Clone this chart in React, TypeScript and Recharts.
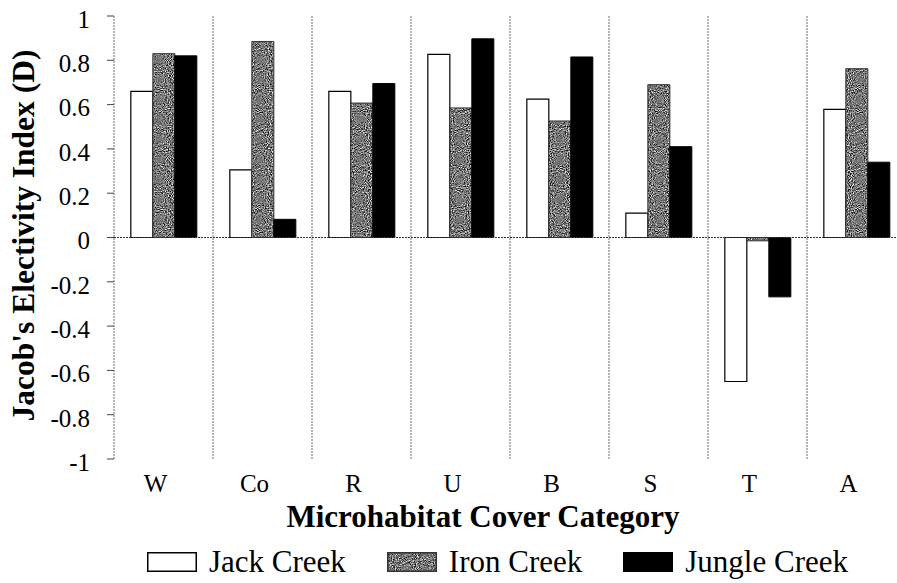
import React from 'react';
import {
  BarChart,
  Bar,
  XAxis,
  YAxis,
  CartesianGrid,
  ReferenceLine,
  Legend,
  Label,
} from 'recharts';

// Microhabitat cover categories
const categories = ['W', 'Co', 'R', 'U', 'B', 'S', 'T', 'A'];

// Jacob's electivity index (D) per creek
const jackCreek = [0.66, 0.305, 0.66, 0.827, 0.625, 0.11, -0.65, 0.578];
const ironCreek = [0.83, 0.885, 0.607, 0.585, 0.526, 0.69, -0.015, 0.762];
const jungleCreek = [0.82, 0.082, 0.695, 0.897, 0.815, 0.41, -0.268, 0.34];

const yTicks = [1, 0.8, 0.6, 0.4, 0.2, 0, -0.2, -0.4, -0.6, -0.8, -1];

const seriesNames = ['Jack Creek', 'Iron Creek', 'Jungle Creek'];

const data = categories.map((c, i) => ({
  category: c,
  jack: jackCreek[i],
  iron: ironCreek[i],
  jungle: jungleCreek[i],
}));

const FONT = '"Liberation Serif", "Times New Roman", serif';
const GRID = '#6e6e6e';

const fmt = (v: number) => String(Math.round(v * 10) / 10);

const YTick = (props: any) => {
  const { x, y, payload } = props;
  return (
    <text
      x={x}
      y={y + 3}
      dy="0.355em"
      textAnchor="end"
      fontFamily={FONT}
      fontSize={25}
      fill="#000"
    >
      {fmt(payload.value)}
    </text>
  );
};

const XTick = (props: any) => {
  const { x, y, payload } = props;
  return (
    <text
      x={x - 8}
      y={y + 33}
      textAnchor="middle"
      fontFamily={FONT}
      fontSize={25}
      fill="#000"
    >
      {payload.value}
    </text>
  );
};

const YTitle = (props: any) => {
  const { viewBox } = props;
  const cx = 23;
  const cy = viewBox.y + viewBox.height / 2 - 2;
  return (
    <text
      x={cx}
      y={cy}
      transform={`rotate(-90, ${cx}, ${cy})`}
      textAnchor="middle"
      dominantBaseline="central"
      fontFamily={FONT}
      fontWeight="bold"
      fontSize={31.5}
      fill="#000"
    >
      Jacob's Electivity Index (D)
    </text>
  );
};

const XTitle = (props: any) => {
  const { viewBox } = props;
  return (
    <text
      x={viewBox.x + viewBox.width / 2 - 27}
      y={527}
      textAnchor="middle"
      fontFamily={FONT}
      fontWeight="bold"
      fontSize={31}
      fill="#000"
    >
      Microhabitat Cover Category
    </text>
  );
};

const swatches = [
  { fill: '#ffffff', stroke: '#000' },
  { fill: 'url(#ironGrain)', stroke: '#333' },
  { fill: '#000000', stroke: '#000' },
];

const LegendContent = () => (
  <div
    style={{
      display: 'flex',
      alignItems: 'center',
      paddingLeft: 147,
      fontFamily: FONT,
      fontSize: 31,
      color: '#000',
      lineHeight: '36px',
    }}
  >
    {seriesNames.map((name, i) => (
      <div
        key={name}
        style={{ display: 'flex', alignItems: 'center', marginRight: 41 }}
      >
        <svg width={50} height={20} style={{ display: 'block' }}>
          <rect
            x={0.75}
            y={0.75}
            width={48.5}
            height={18.5}
            fill={swatches[i].fill}
            stroke={swatches[i].stroke}
            strokeWidth={1.5}
          />
        </svg>
        <span style={{ marginLeft: 12 }}>{name}</span>
      </div>
    ))}
  </div>
);

export default function App() {
  return (
    <div
      style={{
        position: 'absolute',
        left: 0,
        top: 0,
        width: 897,
        height: 583,
        overflow: 'hidden',
        background: '#fff',
      }}
    >
      <svg width={0} height={0} style={{ position: 'absolute' }}>
        <defs>
          {/* speckled grey fill for the Iron Creek bars */}
          <filter
            id="grainFilter"
            x="0"
            y="0"
            width="100%"
            height="100%"
            colorInterpolationFilters="sRGB"
          >
            <feTurbulence
              type="fractalNoise"
              baseFrequency="0.95"
              numOctaves={1}
              seed={7}
              result="noise"
            />
            <feColorMatrix
              in="noise"
              type="matrix"
              values="0.33 0.33 0.33 0 0  0.33 0.33 0.33 0 0  0.33 0.33 0.33 0 0  0 0 0 0 1"
              result="gray"
            />
            <feComponentTransfer in="gray">
              <feFuncR type="linear" slope="3.4" intercept="-1.22" />
              <feFuncG type="linear" slope="3.4" intercept="-1.22" />
              <feFuncB type="linear" slope="3.4" intercept="-1.22" />
            </feComponentTransfer>
          </filter>
          <pattern
            id="ironGrain"
            patternUnits="userSpaceOnUse"
            width={120}
            height={120}
          >
            <rect width={120} height={120} filter="url(#grainFilter)" />
          </pattern>
        </defs>
      </svg>
      <BarChart
        width={912}
        height={583}
        data={data}
        margin={{ top: 16, right: 6, bottom: 0, left: 0 }}
        barCategoryGap="17%"
        barGap={0}
      >
        <CartesianGrid
          horizontal={false}
          stroke={GRID}
          strokeDasharray="2 1"
          verticalCoordinatesGenerator={({ offset }: any) =>
            categories
              .slice(1)
              .map((_, i) => offset.left + ((i + 1) * offset.width) / categories.length)
          }
        />
        <XAxis
          dataKey="category"
          height={124}
          axisLine={false}
          tickLine={false}
          tickSize={0}
          tickMargin={0}
          tick={<XTick />}
          interval={0}
        >
          <Label content={<XTitle />} />
        </XAxis>
        <YAxis
          width={114}
          domain={[-1, 1]}
          ticks={yTicks}
          interval={0}
          axisLine={{ stroke: GRID, strokeDasharray: '2 1' }}
          tickLine={{ stroke: '#444' }}
          tickSize={7}
          tickMargin={17}
          tick={<YTick />}
        >
          <Label content={<YTitle />} />
        </YAxis>
        <ReferenceLine y={0} stroke="#333" strokeDasharray="2 1" />
        <Bar
          dataKey="jack"
          name={seriesNames[0]}
          fill="#ffffff"
          stroke="#000"
          strokeWidth={1.2}
          isAnimationActive={false}
        />
        <Bar
          dataKey="iron"
          name={seriesNames[1]}
          fill="url(#ironGrain)"
          stroke="#333"
          strokeWidth={1}
          isAnimationActive={false}
        />
        <Bar
          dataKey="jungle"
          name={seriesNames[2]}
          fill="#000000"
          stroke="#000"
          strokeWidth={1}
          isAnimationActive={false}
        />
        <Legend
          layout="horizontal"
          verticalAlign="middle"
          align="center"
          content={<LegendContent />}
          wrapperStyle={{ left: 0, top: 544, width: 897, height: 36 }}
        />
      </BarChart>
    </div>
  );
}
